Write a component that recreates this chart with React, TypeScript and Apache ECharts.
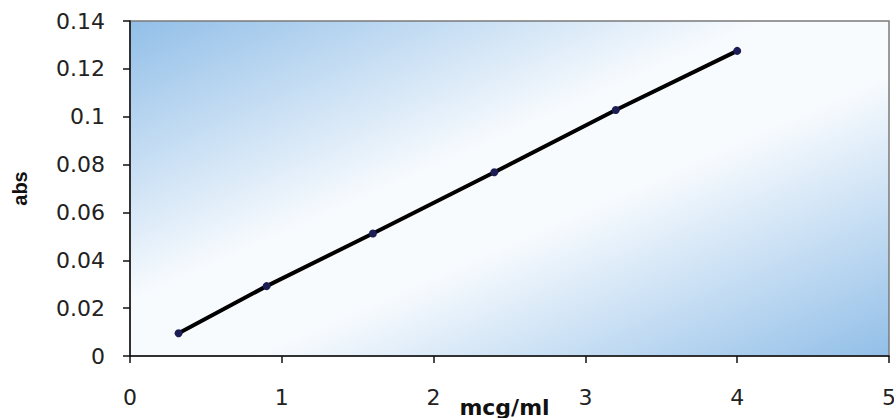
import React, { useEffect, useRef } from "react";
import * as echarts from "echarts";

const concentrations = [0.32, 0.9, 1.6, 2.4, 3.2, 4.0];
const absorbances = [0.0095, 0.0292, 0.0512, 0.0768, 0.1028, 0.1275];
const xTicks = { min: 0, max: 5, interval: 1 };
const yTicks = { min: 0, max: 0.14, interval: 0.02 };
const xName = "mcg/ml";
const yName = "abs";

export default function App() {
  const ref = useRef<HTMLDivElement>(null);
  useEffect(() => {
    if (!ref.current) return;
    const chart = echarts.init(ref.current, undefined, { renderer: "svg" });
    const data = concentrations.map((c, i) => [c, absorbances[i]]);
    chart.setOption({
      animation: false,
      backgroundColor: "#ffffff",
      grid: {
        left: 130,
        top: 21,
        right: 5,
        bottom: 62,
        outerBoundsMode: "none",
        containLabel: false,
        show: true,
        borderColor: "#7a7a7a",
        borderWidth: 1.5,
        backgroundColor: new echarts.graphic.LinearGradient(0, 0, 1, 1, [
          { offset: 0, color: "#92bfe8" },
          { offset: 0.42, color: "#f8fbfe" },
          { offset: 0.58, color: "#f8fbfe" },
          { offset: 1, color: "#92bfe8" },
        ]),
      },
      xAxis: {
        type: "value",
        min: xTicks.min,
        max: xTicks.max,
        interval: xTicks.interval,
        name: xName,
        nameLocation: "middle",
        nameGap: 40,
        nameMoveOverlap: false,
        nameTextStyle: {
          fontFamily: "DejaVu Sans",
          fontWeight: "bold",
          fontSize: 22,
          color: "#111",
          padding: [0, 10, 0, 0],
        },
        axisLine: { show: true, lineStyle: { color: "#111", width: 1.5 } },
        axisTick: { show: true, length: 7, lineStyle: { color: "#111", width: 1.5 } },
        axisLabel: {
          fontFamily: "DejaVu Sans",
          fontSize: 22,
          color: "#222",
          margin: 30,
        },
        splitLine: { show: false },
      },
      yAxis: {
        type: "value",
        min: yTicks.min,
        max: yTicks.max,
        interval: yTicks.interval,
        name: yName,
        nameLocation: "middle",
        nameGap: 100,
        nameRotate: 90,
        nameMoveOverlap: false,
        nameTextStyle: {
          fontFamily: "Liberation Sans",
          fontWeight: "bold",
          fontSize: 20,
          color: "#111",
        },
        axisLine: { show: true, lineStyle: { color: "#111", width: 1.5 } },
        axisTick: { show: true, length: 7, lineStyle: { color: "#111", width: 1.5 } },
        axisLabel: {
          fontFamily: "DejaVu Sans",
          fontSize: 22,
          color: "#222",
          margin: 25,
        },
        splitLine: { show: false },
      },
      series: [
        {
          type: "line",
          data,
          symbol: "circle",
          symbolSize: 8,
          itemStyle: { color: "#1d1d55" },
          lineStyle: { color: "#000", width: 4 },
        },
      ],
    });
    return () => chart.dispose();
  }, []);
  return (
    <div
      ref={ref}
      style={{ position: "fixed", left: 0, top: 0, width: 894, height: 418 }}
    />
  );
}
